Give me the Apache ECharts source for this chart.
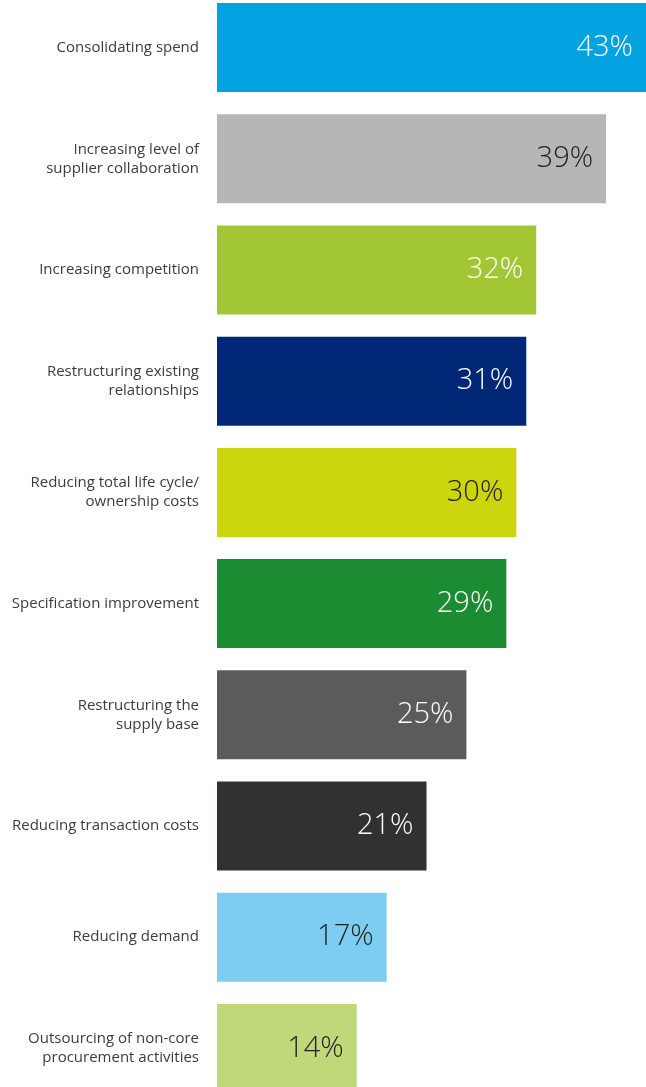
<!DOCTYPE html>
<html><head><meta charset="utf-8">
<script src="https://cdn.jsdelivr.net/npm/echarts@6/dist/echarts.min.js"></script>
<style>html,body{margin:0;padding:0;background:#fff;overflow:hidden;width:646px;height:1087px}#c{position:absolute;left:0;top:-8px;width:646px;height:1112px}</style>
</head><body><div id="c"></div>
<script>
const categories = [
  "Consolidating spend",
  "Increasing level of\nsupplier collaboration",
  "Increasing competition",
  "Restructuring existing\nrelationships",
  "Reducing total life cycle/\nownership costs",
  "Specification improvement",
  "Restructuring the\nsupply base",
  "Reducing transaction costs",
  "Reducing demand",
  "Outsourcing of non-core\nprocurement activities"
];
const values = [43, 39, 32, 31, 30, 29, 25, 21, 17, 14];
const barColors = ["#00a3e0","#b5b6b8","#a3c634","#002776","#cbd40c","#1b8c31","#5b5a5d","#323031","#7dcdf3","#c0d87a"];
const labelColors = ["#ffffff","#222222","#ffffff","#ffffff","#222222","#ffffff","#ffffff","#ffffff","#222222","#222222"];

const chart = echarts.init(document.getElementById('c'), null, {renderer:'canvas'});
chart.setOption({
  animation:false,
  grid:{left:217, width:430, top:0, height:1112, containLabel:false},
  xAxis:{type:'value', min:0, max:43, show:false},
  yAxis:{type:'category', data:categories, inverse:true,
    axisLine:{show:false}, axisTick:{show:false},
    axisLabel:{margin:18, color:'#3c3c3c', fontFamily:'Open Sans', fontSize:15, lineHeight:19, align:'right'}},
  series:[{
    type:'bar', barCategoryGap:'20%',
    data: values.map((v,i)=>({value:v, itemStyle:{color:barColors[i]},
      label:{color:labelColors[i]}})),
    label:{show:true, position:'insideRight', offset:[-8,0], formatter:'{c}%',
      fontFamily:'Open Sans', fontWeight:300, fontSize:29}
  }]
});
</script></body></html>
